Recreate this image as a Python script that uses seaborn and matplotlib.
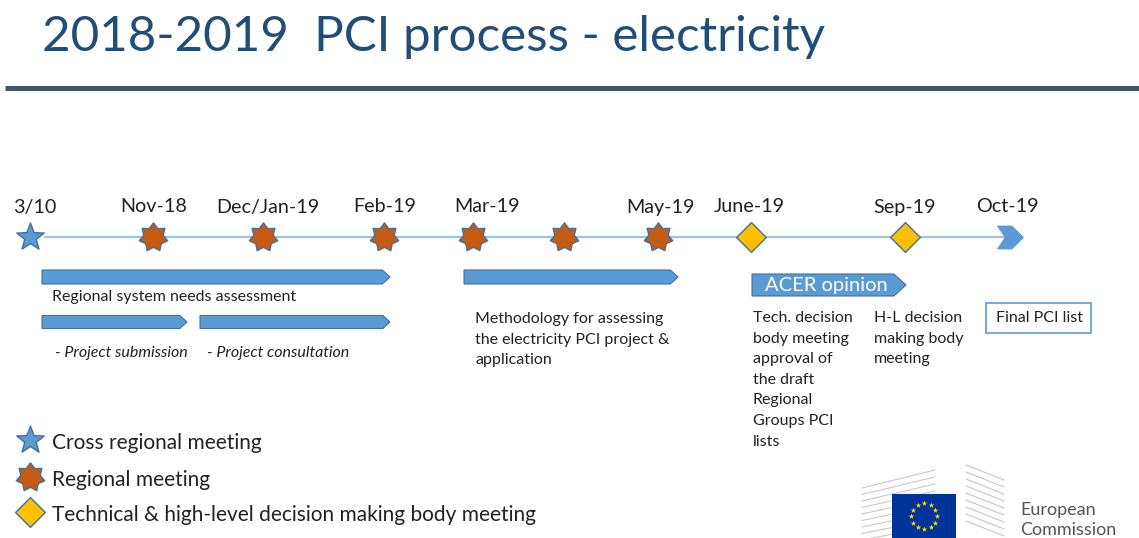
import numpy as np
import pandas as pd
import matplotlib
matplotlib.use("Agg")
import matplotlib.pyplot as plt
from matplotlib.path import Path
from matplotlib.patches import Polygon, Rectangle
import seaborn as sns

# ---------------- data ----------------
event_labels = ["3/10", "Nov-18", "Dec/Jan-19", "Feb-19", "Mar-19", "", "May-19", "June-19", "Sep-19", "Oct-19"]
event_types = ["Cross regional", "Regional", "Regional", "Regional", "Regional", "Regional", "Regional",
               "Decision", "Decision", "End"]
event_pos = [30, 153, 263, 384, 473, 564, 658, 751, 905, 1010]
label_pos = [35, 154, 268, 385, 487, 564, 661, 749, 905, 1007]

phase_labels = ["Regional system needs assessment", "- Project submission", "- Project consultation",
                "Methodology for assessing\nthe electricity PCI project &\napplication", "ACER opinion"]
phase_start = [42, 42, 200, 464, 752]
phase_end = [390, 187, 390, 678, 906]

legend_labels = ["Cross regional meeting", "Regional meeting", "Technical & high-level decision making body meeting"]
legend_types = ["Cross regional", "Regional", "Decision"]

# ---------------- style ----------------
sns.set_theme(style="white")
plt.rcParams["font.family"] = ["Lato", "DejaVu Sans"]

W, H = 1139, 538
fig = plt.figure(figsize=(W / 100, H / 100), dpi=100)
ax = fig.add_axes([0, 0, 1, 1])

BLUE = "#5b9bd5"
EDGE = "#41719c"
ORANGE = "#c55a11"
GOLD = "#ffc000"
TXT = "#222222"


def star_path(n, inner):
    ang = np.pi / 2 + np.arange(2 * n) * np.pi / n
    r = np.where(np.arange(2 * n) % 2 == 0, 1.0, inner)
    verts = np.column_stack([r * np.cos(ang), r * np.sin(ang)])
    verts = np.vstack([verts, verts[:1]])
    return Path(verts, [Path.MOVETO] + [Path.LINETO] * (2 * n - 1) + [Path.CLOSEPOLY])


chevron = Path([(-0.9, -0.8), (0.1, -0.8), (0.9, 0.0), (0.1, 0.8), (-0.9, 0.8), (-0.35, 0.0), (-0.9, -0.8)],
               [Path.MOVETO] + [Path.LINETO] * 5 + [Path.CLOSEPOLY])
markers = {"Cross regional": star_path(5, 0.42), "Regional": star_path(7, 0.68), "Decision": "D", "End": chevron}
palette = {"Cross regional": BLUE, "Regional": ORANGE, "Decision": GOLD, "End": BLUE}
sizes = {"Cross regional": 430, "Regional": 440, "Decision": 230, "End": 330}

# title and rule
ax.text(42, 37, "2018-2019  PCI process - electricity", fontsize=35.5, color="#1f4e79",
        va="center", ha="left")
ax.plot([5, W], [88, 88], color="#44546a", lw=3.6, solid_capstyle="butt")

# timeline
TL_Y = 237
ax.plot([45, 1005], [TL_Y, TL_Y], color="#9dc3e6", lw=1.6, zorder=1)

ev = pd.DataFrame({"x": event_pos, "y": [TL_Y] * len(event_pos), "type": event_types})
for t in markers:
    sub = ev[ev["type"] == t]
    sns.scatterplot(data=sub, x="x", y="y", ax=ax, marker=markers[t], color=palette[t], s=sizes[t],
                    edgecolor=EDGE if t != "End" else BLUE, linewidth=1.0, zorder=3, legend=False)
ax.set_xlim(0, W)
ax.set_ylim(H, 0)
ax.axis("off")

for lx, lab in zip(label_pos, event_labels):
    ax.text(lx, 207, lab, fontsize=14.2, color=TXT, ha="center", va="center")

# phase arrows
phase_y = [277, 322, 322, 277, 285]
phase_h = [14, 13, 13, 14, 22]
for i, (s, e) in enumerate(zip(phase_start, phase_end)):
    yc, h = phase_y[i], phase_h[i]
    tip = h * 0.55
    pts = [(s, yc - h / 2), (e - tip, yc - h / 2), (e, yc), (e - tip, yc + h / 2), (s, yc + h / 2)]
    ax.add_patch(Polygon(pts, closed=True, facecolor=BLUE, edgecolor=EDGE, lw=0.8, zorder=2))

FS = 11.5
LS = 1.6
ax.text(52, 297, phase_labels[0], fontsize=FS, color=TXT, ha="left", va="center")
ax.text(55, 353, phase_labels[1], fontsize=FS, color=TXT, ha="left", va="center", style="italic")
ax.text(207, 353, phase_labels[2], fontsize=FS, color=TXT, ha="left", va="center", style="italic")
ax.text(475, 312, phase_labels[3], fontsize=FS, color=TXT, ha="left", va="top", linespacing=LS)
ax.text(765, 285, phase_labels[4], fontsize=14.5, color="white", ha="left", va="center")

ax.text(753, 311, "Tech. decision\nbody meeting\napproval of\nthe draft\nRegional\nGroups PCI\nlists",
        fontsize=FS, color=TXT, ha="left", va="top", linespacing=LS)
ax.text(874, 311, "H-L decision\nmaking body\nmeeting", fontsize=FS, color=TXT, ha="left", va="top",
        linespacing=LS)
ax.add_patch(Rectangle((986, 303), 105, 30, facecolor="white", edgecolor="#5b9bd5", lw=1.2, zorder=2))
ax.text(996, 318, "Final PCI list", fontsize=FS, color=TXT, ha="left", va="center", zorder=3)

# legend
leg_y = [440, 477, 512]
for ly, lab, t in zip(leg_y, legend_labels, legend_types):
    ax.scatter([30], [ly], marker=markers[t], color=palette[t], s=sizes[t], edgecolor=EDGE, linewidth=1.0,
               zorder=3)
    ax.text(52, ly + 3, lab, fontsize=15, color=TXT, ha="left", va="center")

# EU logo (simplified)
for k in range(9):
    yy = 470 + k * 7
    ax.plot([862, 935], [yy + 18 - k * 0.5, yy], color="#c8c8c8", lw=0.8, zorder=1)
    ax.plot([966, 1004], [yy - 5, yy + 10], color="#c8c8c8", lw=0.8, zorder=1)
ax.add_patch(Rectangle((892, 494), 64, 44, facecolor="#003399", edgecolor="none", zorder=2))
ang = np.linspace(0, 2 * np.pi, 12, endpoint=False)
ax.scatter(924 + 13 * np.cos(ang), 516 + 13 * np.sin(ang), marker="*", s=18, color="#ffdd00",
           linewidth=0, zorder=3)
ax.text(1020, 510, "European", fontsize=13, color="#555555", ha="left", va="center")
ax.text(1020, 530, "Commission", fontsize=13, color="#555555", ha="left", va="center")

fig.savefig("out.png", dpi=100)
